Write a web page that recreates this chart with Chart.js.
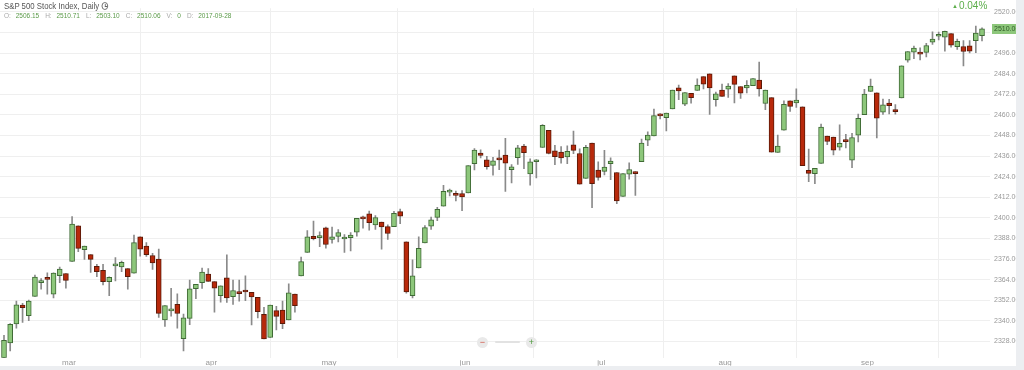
<!DOCTYPE html>
<html>
<head>
<meta charset="utf-8">
<script src="https://cdn.jsdelivr.net/npm/chart.js@4.4.1/dist/chart.umd.min.js"></script>
<style>
  body{margin:0;background:#eceef1;width:1024px;height:370px;overflow:hidden;font-family:Arial,"Liberation Sans",sans-serif}
  #wrap{position:absolute;left:0;top:0;width:1016px;height:366px;background:#fff}
  #c{position:absolute;left:0;top:0}
  .title{position:absolute;left:4px;top:0px;font-size:9.5px;color:#555;white-space:nowrap;transform:scaleX(0.82);transform-origin:0 0}
  .clock{display:inline-block;width:6px;height:6px;border:1px solid #666;border-radius:50%;margin-left:3px;vertical-align:-1px;position:relative}
  .clock:after{content:"";position:absolute;left:2.5px;top:1px;width:2px;height:2px;border-left:1px solid #666;border-bottom:1px solid #666}
  .ohlc{position:absolute;left:4px;top:12px;font-size:6.5px;color:#aaa;white-space:nowrap}
  .ohlc b{font-weight:normal;color:#5a9a48;margin:0 6px 0 3px}
  .chg{position:absolute;left:952px;top:0px;font-size:10px;color:#5cae4a}
  .chg span{font-size:6px;vertical-align:1px;margin-right:1px}
  .zb{position:absolute;top:337px;width:11px;height:11px;border-radius:50%;background:#e9e9e9;font-size:9px;line-height:11px;text-align:center;color:#777}
  .zl{position:absolute;left:495px;top:341px;width:25px;height:2px;background:#e2e2e2;border-radius:1px}
</style>
</head>
<body>
<div id="wrap">
  <canvas id="c" width="1016" height="366"></canvas>
  <div class="title">S&amp;P 500 Stock Index, Daily<span class="clock"></span></div>
  <div class="ohlc">O: <b>2506.15</b>H: <b>2510.71</b>L: <b>2503.10</b>C: <b>2510.06</b>V: <b>0</b>D: <b>2017-09-28</b></div>
  <div class="chg"><span>&#9650;</span>0.04%</div>
  <div class="zb" style="left:477px;color:#d04a3a">&minus;</div>
  <div class="zl"></div>
  <div class="zb" style="left:526px;color:#4e9a3e">+</div>
</div>
<script>
// daily candles, 2017-02-13 .. 2017-09-28 (trading day index on x)
const open = [2318.5,2327.2,2338.2,2349.2,2343.0,2354.3,2362.3,2365.1,2355.6,2366.3,2367.6,2374.6,2395.3,2381.5,2378.6,2371.8,2369.5,2362.9,2372.0,2371.4,
  2370.4,2367.8,2388.9,2383.5,2378.1,2376.0,2340.5,2345.8,2349.6,2329.6,2341.5,2358.8,2362.2,2367.3,2362.9,2354.7,2365.1,2354.1,2357.0,2357.6,
  2356.6,2353.7,2343.8,2330.3,2346.0,2346.3,2340.5,2355.6,2366.2,2379.9,2389.2,2388.5,2394.2,2387.5,2389.2,2387.7,2388.5,2391.7,2400.2,2402.3,
  2395.9,2397.6,2394.9,2394.9,2403.6,2386.0,2354.7,2370.8,2385.4,2395.1,2400.2,2406.8,2415.0,2414.2,2414.2,2414.6,2431.5,2437.8,2433.8,2430.6,
  2434.7,2436.6,2428.1,2435.1,2441.8,2425.6,2432.7,2441.0,2451.0,2439.1,2438.3,2435.5,2442.6,2437.5,2423.0,2443.6,2427.9,2427.1,2431.5,2426.4,
  2412.5,2425.4,2427.0,2432.7,2445.3,2447.8,2460.1,2458.3,2463.4,2475.7,2466.2,2472.6,2474.2,2482.3,2483.9,2468.8,2474.5,2474.9,2482.7,2476.5,
  2475.7,2477.0,2480.2,2466.6,2470.0,2438.1,2451.1,2468.2,2466.9,2464.7,2427.7,2425.8,2431.7,2447.6,2447.0,2441.2,2445.2,2433.6,2448.2,2460.1,
  2473.7,2472.9,2461.6,2466.8,2463.1,2469.8,2491.8,2496.5,2496.1,2496.4,2502.4,2505.8,2505.2,2507.3,2499.7,2499.8,2500.2,2503.2,2506.15];
const high = [2331.6,2338.4,2351.5,2350.2,2352.1,2366.7,2364.7,2368.0,2368.0,2371.4,2367.6,2400.8,2395.3,2383.5,2378.6,2372.9,2372.9,2365.7,2376.9,2374.8,
  2370.4,2390.0,2388.9,2385.6,2379.4,2381.8,2348.9,2358.9,2355.8,2343.9,2363.7,2361.3,2370.7,2370.5,2362.9,2360.4,2378.5,2363.8,2363.8,2366.3,
  2356.6,2353.7,2347.9,2349.2,2348.4,2351.5,2361.6,2355.6,2377.1,2392.6,2398.1,2391.9,2394.7,2394.7,2393.2,2390.2,2391.5,2399.7,2401.1,2404.0,
  2401.4,2397.6,2395.9,2403.8,2405.1,2386.0,2375.6,2388.9,2395.5,2400.4,2406.1,2418.9,2416.7,2415.6,2415.9,2430.4,2440.4,2439.7,2435.8,2435.3,
  2439.5,2446.3,2431.1,2442.3,2442.9,2434.4,2434.0,2454.3,2451.0,2442.3,2441.5,2441.9,2450.5,2440.2,2442.3,2443.6,2432.7,2439.4,2435.0,2426.4,
  2425.8,2432.1,2427.0,2445.9,2450.1,2463.4,2460.7,2461.1,2474.4,2477.4,2473.0,2472.6,2481.0,2482.3,2483.9,2473.2,2477.9,2478.2,2482.7,2476.5,
  2479.9,2481.2,2490.8,2474.5,2470.0,2448.2,2468.2,2468.2,2475.2,2464.7,2440.1,2428.8,2454.6,2447.6,2447.0,2454.2,2448.6,2449.2,2460.5,2474.9,
  2480.8,2472.9,2469.2,2469.1,2466.0,2488.5,2496.9,2500.0,2499.0,2501.7,2508.4,2508.2,2508.8,2507.3,2504.1,2503.2,2503.2,2511.7,2510.71];
const low = [2318.5,2322.5,2335.7,2339.1,2340.1,2354.3,2358.5,2355.6,2353.4,2362.3,2359.1,2374.6,2380.3,2375.8,2368.2,2365.7,2361.0,2354.7,2363.3,2368.6,
  2358.5,2367.8,2377.7,2377.5,2369.9,2342.0,2336.7,2342.7,2335.7,2322.5,2337.8,2353.0,2358.9,2363.0,2345.0,2350.9,2350.8,2349.6,2351.5,2351.8,
  2337.7,2341.7,2329.5,2330.3,2334.8,2335.4,2340.5,2345.0,2366.2,2379.9,2387.2,2383.2,2382.4,2385.2,2386.0,2379.9,2380.7,2389.4,2394.0,2392.8,
  2393.2,2381.8,2387.5,2394.9,2396.6,2356.2,2353.4,2370.8,2385.4,2393.2,2398.3,2406.8,2412.8,2409.8,2404.2,2414.6,2428.0,2434.9,2428.4,2424.9,
  2428.1,2415.4,2420.3,2431.1,2428.7,2419.0,2423.3,2441.0,2437.2,2431.0,2431.9,2431.5,2437.4,2419.6,2423.0,2406.0,2422.0,2425.0,2422.3,2408.2,
  2412.5,2422.6,2413.1,2432.7,2442.1,2447.8,2457.7,2450.6,2463.4,2468.8,2465.3,2466.8,2474.2,2475.1,2460.3,2465.1,2470.8,2470.2,2467.0,2469.6,
  2472.8,2477.0,2470.9,2463.0,2438.3,2438.1,2451.1,2462.0,2464.3,2430.4,2421.1,2419.9,2431.7,2442.7,2436.7,2439.5,2440.8,2429.2,2444.2,2460.1,
  2473.7,2446.6,2460.2,2460.5,2460.4,2469.8,2490.7,2492.7,2492.0,2493.7,2501.1,2503.6,2497.1,2499.4,2498.1,2488.5,2496.1,2496.2,2503.10];
const close = [2328.6,2338.0,2349.4,2347.7,2351.5,2365.5,2362.9,2364.2,2367.8,2370.1,2363.6,2396.4,2382.2,2383.5,2375.8,2368.6,2362.9,2365.3,2373.1,2374.1,
  2365.7,2385.6,2381.8,2378.6,2373.8,2344.4,2348.9,2346.4,2344.3,2341.8,2358.7,2361.3,2368.4,2363.0,2359.1,2360.4,2353.4,2357.7,2355.9,2356.8,
  2353.9,2345.3,2329.5,2349.2,2342.6,2338.3,2356.3,2348.9,2374.5,2388.9,2387.9,2389.2,2384.5,2388.9,2391.5,2388.6,2390.0,2399.7,2399.4,2397.2,
  2400.2,2394.7,2390.9,2402.7,2401.0,2356.8,2366.3,2382.2,2394.3,2398.9,2405.0,2415.5,2416.2,2413.1,2412.2,2430.4,2439.5,2436.4,2429.8,2433.2,
  2433.8,2431.9,2429.8,2440.8,2438.0,2432.7,2433.4,2453.9,2437.6,2435.7,2434.9,2438.8,2439.3,2419.6,2441.1,2419.9,2423.6,2429.6,2433.1,2409.9,
  2425.8,2428.1,2425.8,2443.6,2448.2,2459.6,2459.4,2461.1,2474.4,2474.0,2473.0,2470.0,2477.4,2477.9,2475.7,2472.3,2470.8,2476.8,2477.8,2472.6,
  2477.2,2481.2,2475.1,2474.5,2438.3,2441.8,2466.2,2464.9,2468.6,2430.4,2425.9,2428.8,2452.9,2444.5,2439.4,2443.4,2444.4,2446.8,2458.0,2472.1,
  2476.8,2458.1,2465.9,2465.3,2461.8,2488.5,2496.9,2498.9,2495.4,2500.4,2504.2,2506.9,2508.6,2500.6,2502.8,2496.9,2497.1,2507.6,2510.06];

// first trading day of each month (index) and its label
const monthStart = [11, 34, 53, 75, 97, 117, 140];
const monthLabels = ['mar', 'apr', 'may', 'jun', 'jul', 'aug', 'sep'];
const yTicks = [2328, 2340, 2352, 2364, 2376, 2388, 2400, 2412, 2424, 2436, 2448, 2460, 2472, 2484, 2496, 2508, 2520];

const up = open.map((o, i) => close[i] >= o);
const fills = up.map(u => u ? '#8dc77b' : '#b8290b');
const edges = up.map(u => u ? '#3f6a35' : '#5c1a08');

const lastTag = {
  id: 'lastTag',
  afterDraw(chart) {
    const c = chart.ctx, y = chart.scales.y.getPixelForValue(close[close.length - 1]);
    c.save();
    c.fillStyle = '#8dc77b';
    c.fillRect(992, Math.round(y) - 5, 24, 10);
    c.fillStyle = '#2f5a26';
    c.font = '7px Arial';
    c.textBaseline = 'middle';
    c.fillText(close[close.length - 1].toFixed(2), 994, y + 0.5);
    c.restore();
  }
};

new Chart(document.getElementById('c'), {
  type: 'bar',
  data: {
    datasets: [
      {
        data: low.map((l, i) => ({x: i, y: [l, high[i]]})),
        backgroundColor: '#8a8a8a',
        barThickness: 1,
        grouped: false,
        order: 1
      },
      {
        data: open.map((o, i) => ({x: i, y: [o, close[i]]})),
        backgroundColor: fills,
        borderColor: edges,
        borderWidth: 1,
        borderSkipped: false,
        barThickness: 5,
        minBarLength: 2,
        grouped: false,
        order: 0
      }
    ]
  },
  options: {
    responsive: false,
    animation: false,
    layout: {padding: 0},
    plugins: {legend: {display: false}, tooltip: {enabled: false}},
    scales: {
      x: {
        type: 'linear',
        offset: false,
        min: -0.646,
        max: 159.29,
        grid: {color: '#efefef', drawTicks: false},
        border: {display: false},
        afterBuildTicks: s => { s.ticks = monthStart.map(v => ({value: v - 0.5})); },
        afterFit: s => { s.height = 8; },
        ticks: {
          autoSkip: false,
          maxRotation: 0,
          padding: 0,
          color: '#999',
          font: {size: 8, family: 'Arial'},
          callback: (v, i) => monthLabels[i]
        }
      },
      y: {
        position: 'right',
        min: 2318.49,
        max: 2522.13,
        grid: {color: '#efefef', drawTicks: false},
        border: {display: false},
        afterBuildTicks: s => { s.ticks = yTicks.map(v => ({value: v})); },
        afterFit: s => { s.width = 26; },
        ticks: {
          padding: 4,
          color: '#999',
          font: {size: 7, family: 'Arial'},
          callback: v => v.toFixed(2)
        }
      }
    }
  },
  plugins: [lastTag]
});
</script>
</body>
</html>
